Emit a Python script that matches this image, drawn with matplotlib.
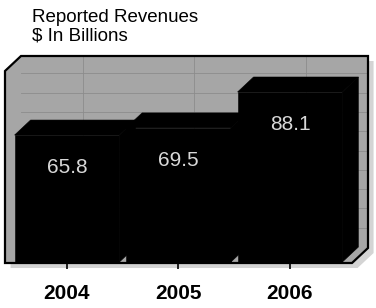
import matplotlib
matplotlib.use("Agg")
import matplotlib.pyplot as plt
from matplotlib.patches import Polygon

# --- data ----------------------------------------------------------------
years = ["2004", "2005", "2006"]
revenues = [65.8, 69.5, 88.1]

# --- style ---------------------------------------------------------------
plt.rcParams["font.family"] = ["Liberation Sans", "DejaVu Sans"]
WALL = "#a6a6a6"
GRID = "#8c8c8c"
BAR_W = 0.94
DX, DY = 0.1435, 7.77          # pseudo-3D depth offset in data units
XLIM = (-0.556, 2.700)
YLIM = (-0.5, 106.75)

fig = plt.figure(figsize=(3.76, 3.08), dpi=100)
ax = fig.add_axes([5 / 376, 45 / 308, 363 / 376, 207 / 308])
ax.set_xlim(*XLIM)
ax.set_ylim(*YLIM)

x0, x1 = XLIM[0], XLIM[1] - DX
y0, y1 = YLIM[0], YLIM[1] - DY
box = [(x0, y1), (x0 + DX, y1 + DY), (x1 + DX, y1 + DY),
       (x1 + DX, y0 + DY), (x1, y0), (x0, y0)]

# drop shadow, back wall, outline
shadow = [(px + 0.05, py - 2.6) for px, py in box]
ax.add_patch(Polygon(shadow, closed=True, fc="#d4d4d4", ec="none",
                     zorder=0, clip_on=False))
ax.add_patch(Polygon(box, closed=True, fc=WALL, ec="none", zorder=1))

# faint gridlines on the back wall
xs = list(range(len(years)))
for g in range(10, 100, 10):
    ax.plot([x0 + DX, x1 + DX], [g + DY, g + DY], color=GRID, lw=0.6,
            zorder=1.5)
for x in xs:
    ax.plot([x + DX, x + DX], [y0 + DY, y1 + DY], color=GRID, lw=0.6,
            zorder=1.5)

# bars: front faces through ax.bar, then top and side faces
ax.bar(xs, revenues, width=BAR_W, color="black", ec="black", lw=0.4,
       zorder=3)
for x, v in zip(xs, revenues):
    xl, xr = x - BAR_W / 2, x + BAR_W / 2
    top = [(xl, v), (xl + DX, v + DY), (xr + DX, v + DY), (xr, v)]
    side = [(xr, 0), (xr + DX, DY), (xr + DX, v + DY), (xr, v)]
    ax.add_patch(Polygon(top, closed=True, fc="black", ec="black", lw=0.4,
                         zorder=2))
    ax.add_patch(Polygon(side, closed=True, fc="black", ec="black", lw=0.4,
                         zorder=2))
    ax.text(x, v - 17, f"{v:.1f}", ha="center", va="center",
            fontsize=15, color="#d8d8d8", zorder=5)

ax.add_patch(Polygon(box, closed=True, fill=False, ec="black", lw=1.6,
                     zorder=6, clip_on=False))

# axis: only bottom ticks with year labels
for s in ax.spines.values():
    s.set_visible(False)
ax.set_yticks([])
ax.set_xticks(xs)
ax.set_xticklabels(years, fontsize=15, fontweight="bold")
ax.tick_params(axis="x", direction="out", length=4, width=1.2, pad=11)

fig.text(32 / 376, 1 - 9 / 308, "Reported Revenues\n$ In Billions",
         ha="left", va="top", fontsize=13.5, linespacing=1.1)

fig.savefig("out.png", dpi=100)
